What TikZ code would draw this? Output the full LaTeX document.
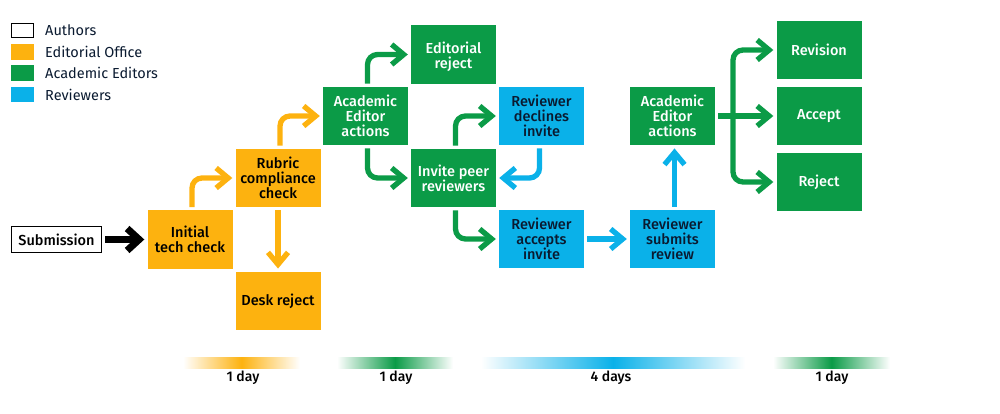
\documentclass[tikz,border=0pt]{standalone}
\usepackage{fontspec}
\setmainfont{Fira Sans}
\newfontfamily\boxfont{Fira Sans Medium}
\usepackage{tikz}
\usetikzlibrary{arrows.meta}
\definecolor{officeorange}{HTML}{FDB20F}
\definecolor{editorgreen}{HTML}{0B9B47}
\definecolor{reviewerblue}{HTML}{0AB1E9}
\definecolor{inkdark}{HTML}{0A1A30}
\tikzset{
  stage/.style={minimum width=85pt,minimum height=58.5pt,inner sep=0pt,align=center,font=\boxfont\fontsize{14.5}{15}\selectfont},
  officebox/.style={stage,fill=officeorange,text=black},
  editorbox/.style={stage,fill=editorgreen,text=white},
  reviewerbox/.style={stage,fill=reviewerblue,text=inkdark},
  flow/.style={line width=5.3pt,rounded corners=10pt,shorten <=3pt,shorten >=3pt,-{Straight Barb[length=12pt,width=20pt,line width=5.3pt]}},
  swatch/.style={minimum width=23pt,minimum height=15.5pt,inner sep=0pt},
  keytext/.style={anchor=west,inner sep=0pt,font=\fontsize{14.5}{15}\selectfont,text=inkdark},
  dayband/.style={left color=white,right color=white},
  daytext/.style={inner sep=0pt,font=\boxfont\fontsize{14}{15}\selectfont,text=black}
}
\begin{document}
\begin{tikzpicture}[x=1pt,y=-1pt]
\useasboundingbox (0,0) rectangle (1000,414);
\node [swatch,draw=black,line width=1.2pt,minimum width=22pt,minimum height=14.5pt] (authors) at (22.5,30.5) {};
\node [swatch,fill=officeorange] (office) at (22.5,52) {};
\node [swatch,fill=editorgreen] (editors) at (22.5,73) {};
\node [swatch,fill=reviewerblue] (reviewers) at (22.5,94.5) {};
\node [keytext] (authorstext) at (45,30.5) {Authors};
\node [keytext] (officetext) at (45,52) {Editorial Office};
\node [keytext] (editorstext) at (45,73) {Academic Editors};
\node [keytext] (reviewerstext) at (45,94.5) {Reviewers};
\node [draw=black,line width=1.2pt,minimum width=90pt,minimum height=26pt,inner sep=0pt,font=\boxfont\fontsize{14.5}{15}\selectfont] (submission) at (56.5,239.5) {Submission};
\node [officebox] (techcheck) at (190,239.5) {Initial\\tech check};
\node [officebox] (rubric) at (278,178) {Rubric\\compliance\\check};
\node [officebox] (deskreject) at (278,301) {Desk reject};
\node [editorbox] (actionsa) at (365.5,116) {Academic\\Editor\\actions};
\node [editorbox] (edreject) at (453.5,54.5) {\rule{0pt}{17pt}Editorial\\reject};
\node [editorbox] (invite) at (453.5,178) {Invite peer\\reviewers};
\node [reviewerbox] (declines) at (541.5,116) {Reviewer\\declines\\invite};
\node [reviewerbox] (accepts) at (541.5,239) {Reviewer\\accepts\\invite};
\node [reviewerbox] (submits) at (672.5,239) {Reviewer\\submits\\review};
\node [editorbox] (actionsb) at (672.5,116) {Academic\\Editor\\actions};
\node [editorbox] (revision) at (819,50) {Revision};
\node [editorbox] (accept) at (819,116) {Accept};
\node [editorbox] (reject) at (819,182) {Reject};
\draw [flow,black,line width=7pt,-{Straight Barb[length=12pt,width=22pt,line width=7pt]}] (submission) -- (techcheck);
\draw [flow,officeorange] ([xshift=2pt]techcheck.north) |- (rubric.west);
\draw [flow,officeorange] (rubric) -- (deskreject);
\draw [flow,officeorange] ([xshift=2pt]rubric.north) |- (actionsa.west);
\draw [flow,editorgreen] ([xshift=2pt]actionsa.north) |- (edreject.west);
\draw [flow,editorgreen] ([xshift=2pt]actionsa.south) |- (invite.west);
\draw [flow,editorgreen] ([xshift=2pt]invite.north) |- (declines.west);
\draw [flow,reviewerblue] ([xshift=-2pt]declines.south) |- (invite.east);
\draw [flow,editorgreen] ([xshift=2pt]invite.south) |- (accepts.west);
\draw [flow,reviewerblue] (accepts) -- (submits);
\draw [flow,reviewerblue] ([xshift=2pt]submits.north) -- ([xshift=2pt]actionsb.south);
\coordinate (fork) at (733,116);
\draw [flow,editorgreen] (actionsb) -- (accept);
\draw [flow,editorgreen,shorten <=0pt] (fork) |- (revision.west);
\draw [flow,editorgreen,shorten <=0pt] (fork) |- (reject.west);
\shade [dayband,middle color=officeorange] (183,357) rectangle (300,368);
\shade [dayband,middle color=editorgreen] (337,357) rectangle (453,368);
\shade [dayband,middle color=reviewerblue] (481,357) rectangle (745,368);
\shade [dayband,middle color=editorgreen] (773,357) rectangle (890,368);
\node [daytext] (dayone) at (243,378) {1 day};
\node [daytext] (daytwo) at (396,378) {1 day};
\node [daytext] (daythree) at (611,378) {4 days};
\node [daytext] (dayfour) at (832,378) {1 day};
\end{tikzpicture}
\end{document}
